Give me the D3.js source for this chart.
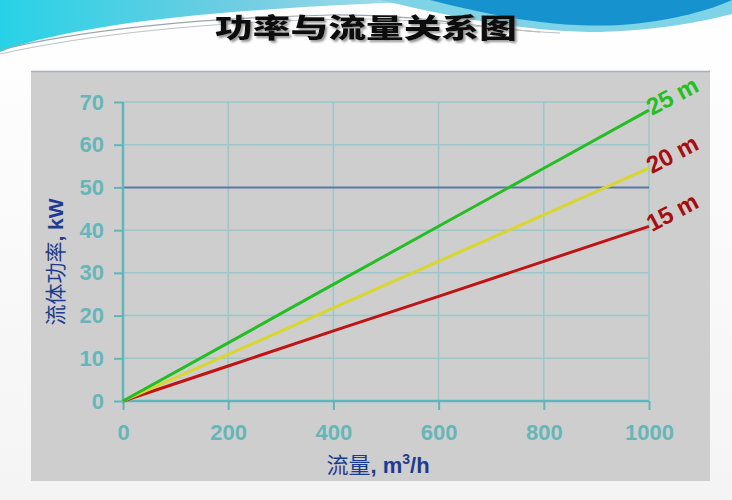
<!DOCTYPE html>
<html>
<head>
<meta charset="utf-8">
<script src="https://cdn.jsdelivr.net/npm/d3@7"></script>
<style>
  body { margin: 0; background: #fff; }
  svg { display: block; }
</style>
</head>
<body>
<svg id="chart"></svg>
<script>
// Data
const title = '功率与流量关系图';
const flow = [0, 200, 400, 600, 800, 1000];          // m3/h
const power25 = [0, 13.6, 27.3, 40.9, 54.5, 68.1];   // kW, 25 m head
const power20 = [0, 10.9, 21.8, 32.7, 43.6, 54.5];   // kW, 20 m head
const power15 = [0, 8.2, 16.4, 24.5, 32.7, 40.9];    // kW, 15 m head
const seriesNames = ['25 m', '20 m', '15 m'];
const xTicks = [0, 200, 400, 600, 800, 1000];
const yTicks = [0, 10, 20, 30, 40, 50, 60, 70];
const refLine = 50;

const width = 732;
const height = 500;
const svg = d3.select('#chart').attr('width', width).attr('height', height);

// Page background with a faint grey wash
const defs = svg.append('defs');
const bg = defs.append('linearGradient').attr('id', 'bg').attr('x1', 0).attr('y1', 0).attr('x2', 0).attr('y2', 1);
bg.append('stop').attr('offset', 0).attr('stop-color', '#ffffff');
bg.append('stop').attr('offset', 1).attr('stop-color', '#f4f4f4');
svg.append('rect').attr('width', width).attr('height', height).attr('fill', 'url(#bg)');

// Drop shadow for the title
const shadow = defs.append('filter').attr('id', 'shadow').attr('x', '-10%').attr('y', '-30%').attr('width', '120%').attr('height', '160%');
shadow.append('feDropShadow')
    .attr('dx', 2).attr('dy', 2).attr('stdDeviation', 1)
    .attr('flood-color', '#7a7a7a').attr('flood-opacity', 0.8);

// Header swoosh
const cyan = defs.append('linearGradient').attr('id', 'cyan').attr('x1', 0).attr('y1', 0).attr('x2', 1).attr('y2', 0);
cyan.append('stop').attr('offset', 0).attr('stop-color', '#27d2e6');
cyan.append('stop').attr('offset', 0.5).attr('stop-color', '#6fcde2');
cyan.append('stop').attr('offset', 1).attr('stop-color', '#b6e3ee');

svg.append('path')
    .attr('d', 'M0,0 L470,0 C330,4 200,12 110,26 C60,34 25,42 0,52 Z')
    .attr('fill', 'url(#cyan)');
svg.append('path')
    .attr('d', 'M380,0 C440,14 520,32 600,32 C660,30 700,22 732,14 L732,0 Z')
    .attr('fill', '#7fd3e6');
svg.append('path')
    .attr('d', 'M430,0 C500,18 560,28 620,25 C675,21 712,9 732,0 Z')
    .attr('fill', '#1692cf');
// thin grey streaks
svg.append('path')
    .attr('d', 'M0,50 C80,30 200,18 330,15 C420,14 480,28 540,32')
    .attr('fill', 'none').attr('stroke', '#9aa6ad').attr('stroke-width', 1.2);
svg.append('path')
    .attr('d', 'M0,54 C90,34 210,22 340,19 C430,18 490,30 560,33')
    .attr('fill', 'none').attr('stroke', '#b9c3c8').attr('stroke-width', 1);

// Title
svg.append('text')
    .attr('x', 366).attr('y', 38)
    .attr('text-anchor', 'middle')
    .attr('font-family', 'Noto Sans CJK SC')
    .attr('font-weight', 900)
    .attr('font-size', 27)
    .attr('textLength', 302).attr('lengthAdjust', 'spacingAndGlyphs')
    .attr('fill', '#111')
    .attr('filter', 'url(#shadow)')
    .text(title);

// Grey chart panel
svg.append('rect')
    .attr('x', 31).attr('y', 71).attr('width', 679).attr('height', 410)
    .attr('fill', '#cecece');
svg.append('line')
    .attr('x1', 31).attr('x2', 710).attr('y1', 71.5).attr('y2', 71.5)
    .attr('stroke', '#a9b0bb').attr('stroke-width', 1.5);

// Scales
const xScale = d3.scaleLinear().domain([0, 1000]).range([123, 649]);
const yScale = d3.scaleLinear().domain([0, 70]).range([401, 102]);

const gridColor = '#9dc6cb';
const axisColor = '#5fb6ba';
const tickColor = '#66b6b9';

// Grid lines
svg.append('g')
    .selectAll('line')
    .data(xTicks.slice(1))
    .join('line')
    .attr('x1', d => xScale(d)).attr('x2', d => xScale(d))
    .attr('y1', yScale(70)).attr('y2', yScale(0))
    .attr('stroke', gridColor).attr('stroke-width', 1.5);

svg.append('g')
    .selectAll('line')
    .data(yTicks.slice(1).filter(d => d != refLine))
    .join('line')
    .attr('x1', xScale(0)).attr('x2', xScale(1000))
    .attr('y1', d => yScale(d)).attr('y2', d => yScale(d))
    .attr('stroke', gridColor).attr('stroke-width', 1.5);

// Highlighted 50 kW line
svg.append('line')
    .attr('x1', xScale(0)).attr('x2', xScale(1000))
    .attr('y1', yScale(refLine)).attr('y2', yScale(refLine))
    .attr('stroke', '#5a78a4').attr('stroke-width', 2);

// Axes
const xAxis = d3.axisBottom(xScale).tickValues(xTicks).tickSize(9).tickPadding(14).tickFormat(d3.format('d'));
const yAxis = d3.axisLeft(yScale).tickValues(yTicks).tickSize(9).tickPadding(10).tickFormat(d3.format('d'));

const gx = svg.append('g')
    .attr('transform', `translate(0, ${yScale(0)})`)
    .call(xAxis);
const gy = svg.append('g')
    .attr('transform', `translate(${xScale(0)}, 0)`)
    .call(yAxis);

[gx, gy].forEach(g => {
    g.select('.domain').attr('stroke', axisColor).attr('stroke-width', 2.5);
    g.selectAll('.tick line').attr('stroke', axisColor).attr('stroke-width', 2);
    g.selectAll('.tick text')
        .attr('fill', tickColor)
        .attr('font-family', 'Liberation Sans, Arial, sans-serif')
        .attr('font-weight', 'bold')
        .attr('font-size', 22);
});
gx.select('.domain').attr('d', `M${xScale(0)},0H${xScale(1000)}`);
gy.select('.domain').attr('d', `M0,${yScale(0)}V${yScale(70)}`);

// Series lines
const series = [
    { name: seriesNames[0], values: power25, color: '#25bd25', labelColor: '#22c022' },
    { name: seriesNames[1], values: power20, color: '#d9d62c', labelColor: '#a50f0f' },
    { name: seriesNames[2], values: power15, color: '#c01313', labelColor: '#a50f0f' }
];

const line = d3.line()
    .x((d, i) => xScale(flow[i]))
    .y(d => yScale(d));

series.slice().reverse().forEach(s => {
    svg.append('path')
        .datum(s.values)
        .attr('fill', 'none')
        .attr('stroke', s.color)
        .attr('stroke-width', 3)
        .attr('d', line);
});

// End labels, tilted along the lines
series.forEach(s => {
    const last = s.values.length - 1;
    const x = xScale(flow[last]) + 3;
    const y = yScale(s.values[last]) + 6;
    svg.append('text')
        .attr('transform', `translate(${x}, ${y}) rotate(-28)`)
        .attr('font-family', 'Liberation Sans, Arial, sans-serif')
        .attr('font-weight', 'bold')
        .attr('font-size', 24)
        .attr('fill', s.labelColor)
        .text(s.name);
});

// Axis titles
const yLabel = svg.append('text')
    .attr('transform', 'translate(63, 262) rotate(-90)')
    .attr('text-anchor', 'middle')
    .attr('font-size', 21)
    .attr('fill', '#1d3b93');
yLabel.append('tspan').attr('font-family', 'Noto Sans CJK SC').text('流体功率');
yLabel.append('tspan').attr('font-family', 'Liberation Sans, Arial, sans-serif').attr('font-weight', 'bold').text(', kW');

const xLabel = svg.append('text')
    .attr('x', 378).attr('y', 473)
    .attr('text-anchor', 'middle')
    .attr('font-size', 22)
    .attr('fill', '#1d3b93');
xLabel.append('tspan').attr('font-family', 'Noto Sans CJK SC').text('流量');
xLabel.append('tspan').attr('font-family', 'Liberation Sans, Arial, sans-serif').attr('font-weight', 'bold').text(', m');
xLabel.append('tspan').attr('font-family', 'Liberation Sans, Arial, sans-serif').attr('font-weight', 'bold')
    .attr('font-size', 14).attr('dy', -9).text('3');
xLabel.append('tspan').attr('font-family', 'Liberation Sans, Arial, sans-serif').attr('font-weight', 'bold')
    .attr('dy', 9).text('/h');
</script>
</body>
</html>
